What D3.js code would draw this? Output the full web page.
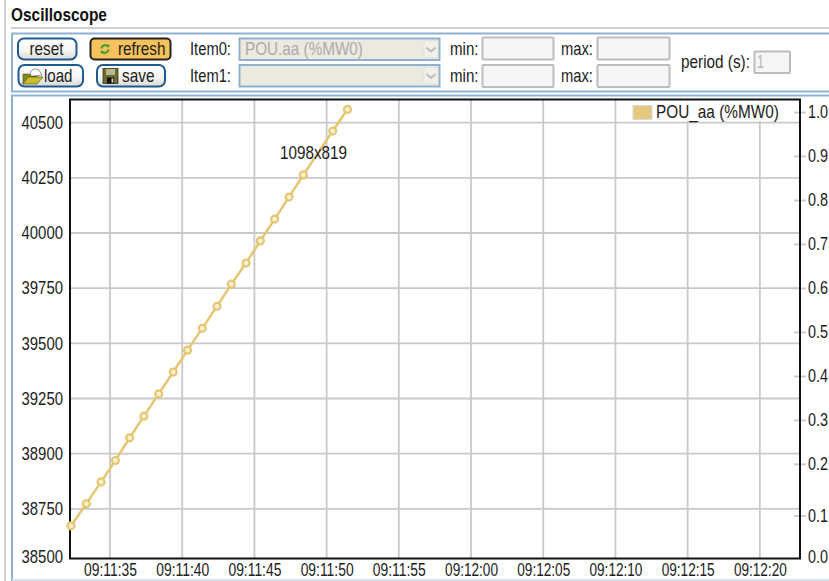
<!DOCTYPE html>
<html>
<head>
<meta charset="utf-8">
<script src="https://cdnjs.cloudflare.com/ajax/libs/d3/7.8.5/d3.min.js"></script>
<style>
  html, body { margin: 0; padding: 0; background: #fff; overflow: hidden; }
  svg { display: block; }
  text { font-family: "Liberation Sans", Arial, sans-serif; fill: #1c1c1c; }
</style>
</head>
<body>
<div id="chart"></div>
<script>
// values
const pointTimes = ["09:11:32.300", "09:11:33.360", "09:11:34.380", "09:11:35.370", "09:11:36.360",
  "09:11:37.350", "09:11:38.370", "09:11:39.380", "09:11:40.370", "09:11:41.390", "09:11:42.410",
  "09:11:43.400", "09:11:44.420", "09:11:45.410", "09:11:46.400", "09:11:47.400", "09:11:48.390",
  "09:11:50.420", "09:11:51.440"];
const pointValues = [38673, 38773, 38872, 38969, 39072, 39170, 39271, 39370, 39469, 39568, 39668,
  39768, 39864, 39964, 40063, 40163, 40263, 40462, 40560];

const timeTicks = ["09:11:35", "09:11:40", "09:11:45", "09:11:50", "09:11:55", "09:12:00",
  "09:12:05", "09:12:10", "09:12:15", "09:12:20"];
// the lowest labels sit at the axis end, the 39000 line really is labelled 38900 in the source
const leftTicks = [38535, 38750, 39000, 39250, 39500, 39750, 40000, 40250, 40500];
const leftLabels = ["38500", "38750", "38900", "39250", "39500", "39750", "40000", "40250", "40500"];
const rightTicks = [-0.0115, 0.0825, 0.2, 0.3, 0.4, 0.5, 0.6, 0.7, 0.8, 0.9, 1.0];
const rightLabels = ["0.0", "0.1", "0.2", "0.3", "0.4", "0.5", "0.6", "0.7", "0.8", "0.9", "1.0"];
const seriesName = "POU_aa (%MW0)";

const W = 829, H = 581;
const plot = { left: 70, right: 800, top: 99.5, bottom: 558.5 };
const gold = "#e4c673", gridColor = "#c9c9c9", panelBlue = "#8fb1d1";
const fontSize = 18;

const svg = d3.select("#chart").append("svg").attr("width", W).attr("height", H);

const parseMs = d3.timeParse("%H:%M:%S.%L");
const parseS = d3.timeParse("%H:%M:%S");
const fmtS = d3.timeFormat("%H:%M:%S");

const x = d3.scaleTime()
  .domain([parseMs("09:11:32.230"), parseMs("09:12:22.780")])
  .range([plot.left, plot.right]);
const y = d3.scaleLinear().domain([38525, 40605]).range([plot.bottom, plot.top]);
const yRight = d3.scaleLinear().domain([-0.0152, 1.0284]).range([plot.bottom, plot.top]);

// small helper for the page furniture, text is squeezed to the measured width
function label(px, py, str, w, opts) {
  opts = opts || {};
  const t = svg.append("text")
    .attr("y", py)
    .style("font-size", (opts.size || fontSize) + "px")
    .style("font-weight", opts.weight || "normal")
    .style("fill", opts.fill || "#1c1c1c")
    .text(str);
  const sx = w / t.node().getComputedTextLength();
  t.attr("transform", "translate(" + px + ",0) scale(" + sx + ",1)");
  return t;
}
// same squeeze for tick labels, keeps the tick's own x as the anchor
function squeezeTicks(sel, w) {
  sel.each(function () {
    const t = d3.select(this);
    const sx = w / this.getComputedTextLength();
    const tx = +t.attr("x") || 0;
    t.attr("x", 0).attr("transform", "translate(" + tx + ",0) scale(" + sx + ",1)");
  });
}
function box(px, py, w, h, fill, stroke, sw, r) {
  return svg.append("rect")
    .attr("x", px).attr("y", py).attr("width", w).attr("height", h)
    .attr("rx", r || 0).attr("ry", r || 0)
    .attr("fill", fill).attr("stroke", stroke).attr("stroke-width", sw);
}

const defs = svg.append("defs");
const btn = defs.append("linearGradient").attr("id", "btn").attr("x1", 0).attr("y1", 0).attr("x2", 0).attr("y2", 1);
btn.append("stop").attr("offset", "0").attr("stop-color", "#ffffff");
btn.append("stop").attr("offset", "0.55").attr("stop-color", "#f6f6f4");
btn.append("stop").attr("offset", "1").attr("stop-color", "#d9d9d5");

// outer frame and title
svg.append("line").attr("x1", 5).attr("x2", 5).attr("y1", 0).attr("y2", H).attr("stroke", "#d2d2d2").attr("stroke-width", 2);
label(11, 21, "Oscilloscope", 96, { size: 17.5, weight: "bold", fill: "#111" });
svg.append("line").attr("x1", 11).attr("x2", W).attr("y1", 28).attr("y2", 28).attr("stroke", "#cfcfcf").attr("stroke-width", 2);

// panels
box(12, 33.5, W, 58, "#fff", panelBlue, 2);
box(12, 95.5, W, 484.5, "#fff", panelBlue, 2);
svg.append("line").attr("x1", 12).attr("x2", W).attr("y1", 580).attr("y2", 580).attr("stroke", "#d3e2ef").attr("stroke-width", 2);

// buttons
box(18, 38.5, 58.5, 21, "url(#btn)", "#1f5b8e", 2, 6);
label(29.5, 55, "reset", 34);
box(90.5, 38.5, 80, 21, "#f7c25c", "#222", 2, 4);
label(118, 55, "refresh", 47.5);
box(18.5, 65, 64.5, 21.5, "url(#btn)", "#1f5b8e", 2, 6);
label(44, 82, "load", 28.5);
box(97, 65, 68, 21.5, "url(#btn)", "#1f5b8e", 2, 6);
label(122, 82, "save", 32.5);

// refresh icon
const refreshIcon = svg.append("g").attr("transform", "translate(105,49)")
  .attr("fill", "none").attr("stroke", "#2f9a2a").attr("stroke-width", 1.8);
refreshIcon.append("path").attr("d", "M-3.5,-0.5 A3.6,3.6 0 0 1 3,-2.4");
refreshIcon.append("path").attr("d", "M3.5,0.5 A3.6,3.6 0 0 1 -3,2.4");
refreshIcon.append("path").attr("d", "M1.5,-4.6 L4.6,-4.2 L3.6,-1 Z").attr("fill", "#2f9a2a").attr("stroke", "none");
refreshIcon.append("path").attr("d", "M-1.5,4.6 L-4.6,4.2 L-3.6,1 Z").attr("fill", "#2f9a2a").attr("stroke", "none");

// folder icon
const folderIcon = svg.append("g").attr("transform", "translate(23,68)");
folderIcon.append("path").attr("d", "M7,4 Q11,-1 16,2 L19,7 L8,9 Z").attr("fill", "#fff").attr("stroke", "#777").attr("stroke-width", 0.8);
folderIcon.append("path").attr("d", "M0,6 L6,6 L8,8 L14,8 L14,10 L0,16 Z").attr("fill", "#8a8420").attr("stroke", "#4c4a10").attr("stroke-width", 0.6);
folderIcon.append("path").attr("d", "M0,16 L5,9 L20,9 L14,16 Z").attr("fill", "#c9bd2c").attr("stroke", "#4c4a10").attr("stroke-width", 0.6);

// floppy icon
const floppyIcon = svg.append("g").attr("transform", "translate(103,68.5)");
floppyIcon.append("rect").attr("width", 15).attr("height", 15).attr("fill", "#6b6a35").attr("stroke", "#3b3a18").attr("stroke-width", 0.8);
floppyIcon.append("rect").attr("x", 3).attr("y", 0.5).attr("width", 9).attr("height", 6).attr("fill", "#b9b88c");
floppyIcon.append("rect").attr("x", 4).attr("y", 9).attr("width", 7).attr("height", 6).attr("fill", "#111");
floppyIcon.append("rect").attr("x", 8.5).attr("y", 10).attr("width", 1.8).attr("height", 4).attr("fill", "#d8d8d8");

// item selects
[[55, 38.5, "Item0:"], [82, 65, "Item1:"]].forEach(function (row) {
  label(190, row[0], row[2], 41);
  box(239.5, row[1], 200, 21.5, "#ece9df", panelBlue, 2);
  box(424, row[1] + 2.5, 14, 16.5, "#f1f0ea", "#e2e1da", 1);
  svg.append("path")
    .attr("d", "M426.5," + (row[1] + 9) + " l4.5,4 l4.5,-4")
    .attr("fill", "none").attr("stroke", "#bdbdb8").attr("stroke-width", 2);
});
label(245, 55, "POU.aa (%MW0)", 118, { fill: "#ababab" });

// min / max inputs
[[55, 37.5], [82, 65]].forEach(function (row) {
  label(450, row[0], "min:", 28.5);
  box(482.5, row[1], 71, 22, "#f6f6f6", "#bcbcbc", 2, 1);
  label(561, row[0], "max:", 32);
  box(597.5, row[1], 72, 22, "#f6f6f6", "#bcbcbc", 2, 1);
});
label(681, 68, "period (s):", 69);
box(754.5, 51.5, 35.5, 21.5, "#f6f6f6", "#bcbcbc", 2, 1);
label(757, 68, "1", 7, { fill: "#b5b5b5" });

// grid
const plotG = svg.append("g");
plotG.selectAll("line.vertical-grid")
  .data(timeTicks)
  .enter().append("line")
  .attr("class", "vertical-grid")
  .attr("x1", d => x(parseS(d))).attr("x2", d => x(parseS(d)))
  .attr("y1", plot.top).attr("y2", plot.bottom)
  .attr("stroke", gridColor).attr("stroke-width", 1.8);
plotG.selectAll("line.horizontal-grid")
  .data(leftTicks.slice(1))
  .enter().append("line")
  .attr("class", "horizontal-grid")
  .attr("x1", plot.left).attr("x2", plot.right)
  .attr("y1", d => y(d)).attr("y2", d => y(d))
  .attr("stroke", gridColor).attr("stroke-width", 1.8);

// axes
const xAxis = d3.axisBottom(x)
  .tickValues(timeTicks.map(d => parseS(d)))
  .tickFormat(fmtS)
  .tickSize(0).tickPadding(5);
svg.append("g").attr("class", "x axis")
  .attr("transform", "translate(0," + plot.bottom + ")")
  .call(xAxis)
  .call(g => g.select(".domain").remove())
  .selectAll("text")
  .style("font-size", fontSize + "px")
  .call(squeezeTicks, 53);

const yAxis = d3.axisLeft(y)
  .tickValues(leftTicks)
  .tickFormat((d, i) => leftLabels[i])
  .tickSize(0).tickPadding(7);
svg.append("g").attr("class", "y axis")
  .attr("transform", "translate(" + plot.left + ",0)")
  .call(yAxis)
  .call(g => g.select(".domain").remove())
  .selectAll("text")
  .style("font-size", fontSize + "px")
  .call(squeezeTicks, 41.5);

const yAxisRight = d3.axisRight(yRight)
  .tickValues(rightTicks)
  .tickFormat((d, i) => rightLabels[i])
  .tickSize(6).tickPadding(2);
const rightG = svg.append("g").attr("class", "y2 axis")
  .attr("transform", "translate(" + plot.right + ",0)")
  .call(yAxisRight)
  .call(g => g.select(".domain").remove());
rightG.selectAll("text")
  .style("font-size", fontSize + "px")
  .call(squeezeTicks, 20);
rightG.selectAll("line")
  .attr("x1", -6).attr("stroke", gridColor).attr("stroke-width", 1.8)
  .filter((d, i) => i === 0).remove();

// series
const pts = pointTimes.map((t, i) => ({ t: parseMs(t), v: pointValues[i] }));
svg.append("path")
  .datum(pts)
  .attr("fill", "none")
  .attr("stroke", gold).attr("stroke-width", 2.5)
  .attr("d", d3.line().x(d => x(d.t)).y(d => y(d.v)));

// plot border
svg.append("rect")
  .attr("x", plot.left).attr("y", plot.top)
  .attr("width", plot.right - plot.left).attr("height", plot.bottom - plot.top)
  .attr("fill", "none").attr("stroke", "#111").attr("stroke-width", 2);

svg.selectAll("circle.point")
  .data(pts)
  .enter().append("circle")
  .attr("class", "point")
  .attr("cx", d => x(d.t)).attr("cy", d => y(d.v))
  .attr("r", 3.5)
  .attr("fill", "#f8f1cf").attr("stroke", gold).attr("stroke-width", 2.2);

// legend
svg.append("rect").attr("x", 630).attr("y", 101).attr("width", 152).attr("height", 20)
  .attr("fill", "#fff").attr("fill-opacity", 0.85);
box(633, 105.5, 19, 14, "#e5c87f", "#d9d9d9", 1);
label(656, 118, seriesName, 123);

// size note that sits on top of the plot in the source
label(280, 159, "1098x819", 67);
</script>
</body>
</html>
